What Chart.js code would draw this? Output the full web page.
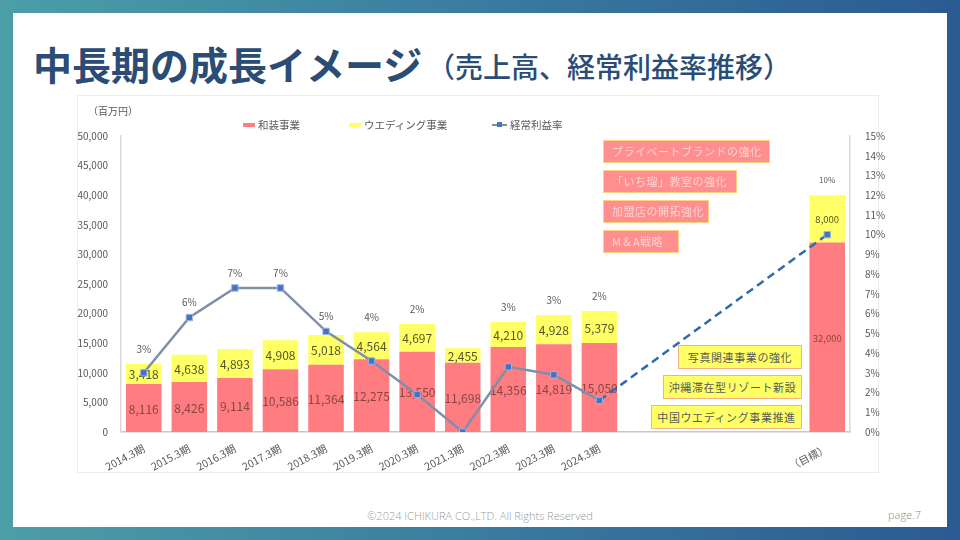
<!DOCTYPE html>
<html>
<head>
<meta charset="utf-8">
<script src="https://cdn.jsdelivr.net/npm/chart.js@4.4.1/dist/chart.umd.min.js"></script>
<style>
  body { margin: 0; width: 960px; height: 540px; overflow: hidden;
         background: linear-gradient(90deg, #4c9ea7 0%, #3a7c9f 50%, #2b5a92 100%);
         font-family: 'Noto Sans CJK JP', sans-serif; position: relative; }
  .slide { position: absolute; left: 13px; top: 13px; width: 934px; height: 514px; background: #fff; }
  .abs { position: absolute; white-space: nowrap; }
  #title { left: 33px; top: 44px; font-size: 39px; line-height: 39px; font-weight: 700; color: #2a4c75; }
  #subtitle { left: 427px; top: 52px; font-size: 28px; line-height: 28px; font-weight: 500; color: #2a4c75; }
  #panel { left: 77px; top: 95px; width: 800px; height: 376px; border: 1px solid #ececec; background: #fff; }
  #unit { left: 88px; top: 103px; font-size: 10px; color: #595959; }
  .leg { position: absolute; top: 117px; font-size: 10.5px; color: #595959; white-space: nowrap; }
  .sw { display: inline-block; width: 12px; height: 4px; vertical-align: middle; margin-right: 3px; position: relative; top: -1px; }
  .pbox { position: absolute; height: 21px; line-height: 21px; background: #ff8e8e; border: 1.5px solid #ffd27f;
          color: #ffd2d2; font-size: 11px; letter-spacing: 0.5px; padding-left: 8px; box-sizing: content-box; }
  .ybox { position: absolute; height: 22px; line-height: 22px; background: #ffff66; border: 1.5px solid #f4b183;
          color: #595959; font-size: 11px; letter-spacing: 0.6px; text-align: center; }
  #copy { left: 0; width: 960px; text-align: center; top: 508px; font-family: 'Open Sans', sans-serif; font-weight: 300; font-size: 11px; color: #9a9a9a; }
  #page { left: 888px; top: 507px; font-family: 'Open Sans', sans-serif; font-weight: 300; font-size: 11px; color: #8a8a8a; }
</style>
</head>
<body>
<div class="slide"></div>
<div class="abs" id="title">中長期の成長イメージ</div>
<div class="abs" id="subtitle">（売上高、経常利益率推移）</div>
<div class="abs" id="panel"></div>
<div style="position:absolute;left:77px;top:95px;width:815px;height:377px;">
  <canvas id="c" width="815" height="377"></canvas>
</div>
<div class="abs" id="unit">（百万円）</div>
<div class="leg" style="left:243px;"><span class="sw" style="background:#ff7c80"></span>和装事業</div>
<div class="leg" style="left:349px;"><span class="sw" style="background:#ffff66"></span>ウエディング事業</div>
<div class="leg" style="left:492px;"><span class="sw" style="width:15px;height:2px;background:#7f8fa9;"><span style="position:absolute;left:5px;top:-2px;width:5px;height:5px;background:#4472c4"></span></span>経常利益率</div>

<div class="pbox" style="left:603px;top:140px;width:157px;">プライベートブランドの強化</div>
<div class="pbox" style="left:603px;top:170px;width:124px;">「いち瑠」教室の強化</div>
<div class="pbox" style="left:603px;top:200px;width:96px;">加盟店の開拓強化</div>
<div class="pbox" style="left:603px;top:230px;width:66px;">M＆A戦略</div>

<div class="ybox" style="left:678px;top:345px;width:122px;">写真関連事業の強化</div>
<div class="ybox" style="left:663px;top:375px;width:137px;">沖縄滞在型リゾート新設</div>
<div class="ybox" style="left:651px;top:405px;width:149px;">中国ウエディング事業推進</div>

<div class="abs" id="copy">©2024 ICHIKURA CO.,LTD. All Rights Reserved</div>
<div class="abs" id="page">page.7</div>

<script>
// categories: 11 fiscal years, 4 empty slots, then the target
var categories = ['2014.3期', '2015.3期', '2016.3期', '2017.3期', '2018.3期', '2019.3期', '2020.3期',
                  '2021.3期', '2022.3期', '2023.3期', '2024.3期', '', '', '', '', '（目標）'];
var wasouSales = [8116, 8426, 9114, 10586, 11364, 12275, 13550, 11698, 14356, 14819, 15050, null, null, null, null, 32000];
var weddingSales = [3418, 4638, 4893, 4908, 5018, 4564, 4697, 2455, 4210, 4928, 5379, null, null, null, null, 8000];
var profitRate = [3.0, 5.8, 7.3, 7.3, 5.1, 3.6, 1.9, 0, 3.3, 2.9, 1.6, null, null, null, null, 10.0];
var salesTicks = [0, 5000, 10000, 15000, 20000, 25000, 30000, 35000, 40000, 45000, 50000];
var rateTicks = [0, 1, 2, 3, 4, 5, 6, 7, 8, 9, 10, 11, 12, 13, 14, 15];

var FONT = "'Noto Sans CJK JP', sans-serif";
var TARGET = categories.length - 1;

// numbers inside the bars, drawn before the line so the markers sit on top
var barLabels = {
    id: 'barLabels',
    afterDatasetDraw: function (chart, args) {
        if (args.index > 1) return;
        var ctx = chart.ctx;
        var values = chart.data.datasets[args.index].data;
        ctx.save();
        ctx.textAlign = 'center';
        ctx.textBaseline = 'middle';
        ctx.fillStyle = args.index === 0 ? '#8a4545' : '#55552a';
        args.meta.data.forEach(function (bar, j) {
            var v = values[j];
            if (v == null) return;
            var p = bar.getProps(['x', 'y', 'base'], true);
            ctx.font = (j === TARGET ? '9.5px ' : '12px ') + FONT;
            ctx.fillText(v.toLocaleString('en-US'), p.x, (p.y + p.base) / 2 + 1);
        });
        ctx.restore();
    }
};

// percentage labels above each column
var rateLabels = {
    id: 'rateLabels',
    afterDatasetsDraw: function (chart) {
        var ctx = chart.ctx;
        var ys = chart.scales.y, yr = chart.scales.y1, xs = chart.scales.x;
        ctx.save();
        ctx.textAlign = 'center';
        ctx.textBaseline = 'middle';
        ctx.fillStyle = '#595959';
        profitRate.forEach(function (r, j) {
            if (r == null || r === 0) return;
            var top = ys.getPixelForValue(wasouSales[j] + weddingSales[j]);
            var pt = yr.getPixelForValue(r);
            var y = Math.min(top, pt) - 15;
            ctx.font = (j === TARGET ? '8px ' : '10px ') + FONT;
            ctx.fillText(Math.round(r) + '%', xs.getPixelForValue(j), y);
        });
        ctx.restore();
    }
};

new Chart(document.getElementById('c'), {
    type: 'bar',
    data: {
        labels: categories,
        datasets: [
            { label: '和装事業', data: wasouSales, backgroundColor: '#ff7c80', stack: 's', order: 2,
              barPercentage: 0.78, categoryPercentage: 1.0 },
            { label: 'ウエディング事業', data: weddingSales, backgroundColor: '#ffff66', stack: 's', order: 2,
              barPercentage: 0.78, categoryPercentage: 1.0 },
            { type: 'line', label: '経常利益率', data: profitRate, yAxisID: 'y1', order: 0,
              borderColor: '#7f8fa9', borderWidth: 2.5, spanGaps: true,
              pointStyle: 'rect', pointRadius: 4.5, pointBackgroundColor: '#4472c4',
              pointBorderColor: '#9db4de', pointBorderWidth: 1,
              segment: {
                  borderColor: function (c) { return c.p1DataIndex === TARGET ? '#2e6bab' : undefined; },
                  borderDash: function (c) { return c.p1DataIndex === TARGET ? [8, 5] : undefined; }
              } }
        ]
    },
    options: {
        responsive: false,
        devicePixelRatio: 1,
        animation: false,
        layout: { padding: { top: 41, left: 0, right: 0, bottom: 0 } },
        plugins: { legend: { display: false }, tooltip: { enabled: false } },
        scales: {
            x: {
                stacked: true,
                grid: { display: false },
                border: { display: true, color: '#c8c8c8', width: 1.5 },
                ticks: { color: '#595959', font: { family: FONT, size: 10.5 }, autoSkip: false,
                         minRotation: 28, maxRotation: 28, padding: 2 },
                afterFit: function (s) { s.height = 40; }
            },
            y: {
                stacked: true, min: 0, max: 50000,
                grid: { display: false },
                border: { display: true, color: '#d9d9d9', width: 1.5 },
                afterBuildTicks: function (s) { s.ticks = salesTicks.map(function (v) { return { value: v }; }); },
                ticks: { color: '#595959', font: { family: FONT, size: 10 }, padding: 5,
                         callback: function (v) { return v.toLocaleString('en-US'); } },
                afterFit: function (s) { s.width = 44; }
            },
            y1: {
                position: 'right', min: 0, max: 15,
                grid: { display: false },
                border: { display: true, color: '#d9d9d9', width: 1.5 },
                afterBuildTicks: function (s) { s.ticks = rateTicks.map(function (v) { return { value: v }; }); },
                ticks: { color: '#595959', font: { family: FONT, size: 10 }, padding: 7,
                         callback: function (v) { return v + '%'; } },
                afterFit: function (s) { s.width = 42; }
            }
        }
    },
    plugins: [barLabels, rateLabels]
});
</script>
</body>
</html>
